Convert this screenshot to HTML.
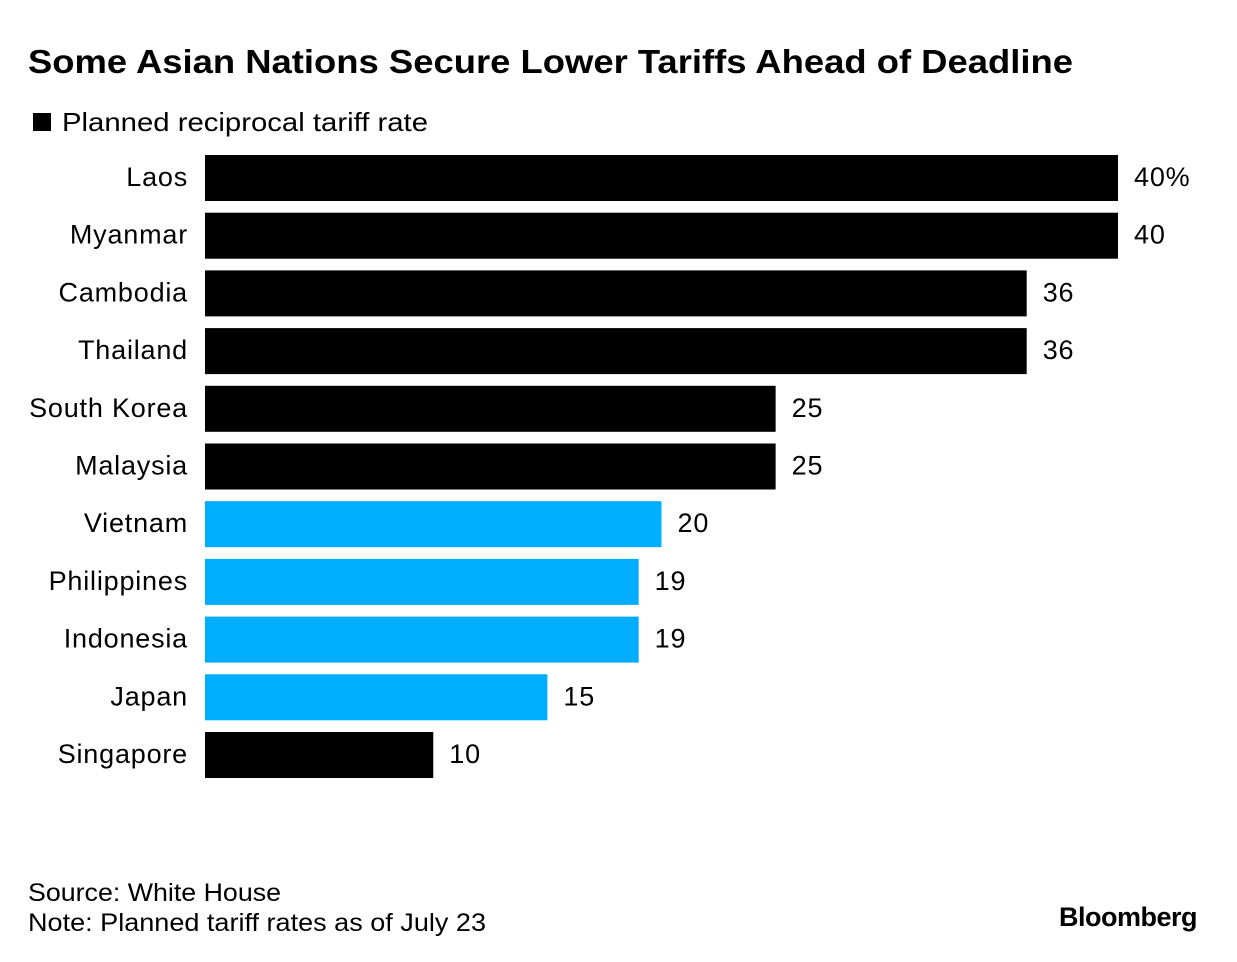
<!DOCTYPE html>
<html><head><meta charset="utf-8"><style>
body{margin:0;background:#fff;font-family:"Liberation Sans",sans-serif;}
#wrap{position:relative;width:1237px;height:962px;overflow:hidden;}
</style></head><body>
<div id="wrap">
<svg id="chart" width="1237" height="962">
<text x="28" y="73" font-size="33" font-weight="bold" fill="#000" textLength="1045" lengthAdjust="spacingAndGlyphs">Some Asian Nations Secure Lower Tariffs Ahead of Deadline</text>
<rect x="33" y="113" width="18" height="18" fill="#000"/>
<text x="62" y="131" font-size="26" fill="#000" textLength="366" lengthAdjust="spacingAndGlyphs">Planned reciprocal tariff rate</text>
<g id="bars"></g>
<text x="28" y="901" font-size="25" fill="#000" textLength="253" lengthAdjust="spacingAndGlyphs">Source: White House</text>
<text x="28" y="931" font-size="25" fill="#000" textLength="458" lengthAdjust="spacingAndGlyphs">Note: Planned tariff rates as of July 23</text>
<text x="1197" y="926" font-size="27" font-weight="bold" text-anchor="end" fill="#000" letter-spacing="-0.5">Bloomberg</text>
</svg>
</div>
<script>
const categories=["Laos","Myanmar","Cambodia","Thailand","South Korea","Malaysia","Vietnam","Philippines","Indonesia","Japan","Singapore"];
const values=[40,40,36,36,25,25,20,19,19,15,10];
const highlighted=[false,false,false,false,false,false,true,true,true,true,false];
const valueLabels=["40%","40","36","36","25","25","20","19","19","15","10"];
const NS="http://www.w3.org/2000/svg";
const x0=205,xScale=(1118-205)/40;
const xf=v=>x0+v*xScale;
const y0=155,step=57.7,bh=46;
const yf=i=>y0+i*step;
const g=document.getElementById('bars');
categories.forEach((c,i)=>{
  const r=document.createElementNS(NS,'rect');
  r.setAttribute('x',x0);r.setAttribute('y',yf(i));
  r.setAttribute('width',xf(values[i])-x0);r.setAttribute('height',bh);
  r.setAttribute('fill',highlighted[i]?'#00adff':'#000');
  
  
  g.appendChild(r);
  const t=document.createElementNS(NS,'text');
  t.setAttribute('x',188);t.setAttribute('y',yf(i)+bh/2+8);
  t.setAttribute('text-anchor','end');t.setAttribute('font-size','27');
  t.setAttribute('letter-spacing','0.8');
  t.textContent=c;
  
  
  g.appendChild(t);
  const v=document.createElementNS(NS,'text');
  v.setAttribute('x',xf(values[i])+16);v.setAttribute('y',yf(i)+bh/2+8);
  v.setAttribute('font-size','27');
  v.setAttribute('letter-spacing','0.8');
  v.textContent=valueLabels[i];
  
  
  g.appendChild(v);
});
</script>
</body></html>
